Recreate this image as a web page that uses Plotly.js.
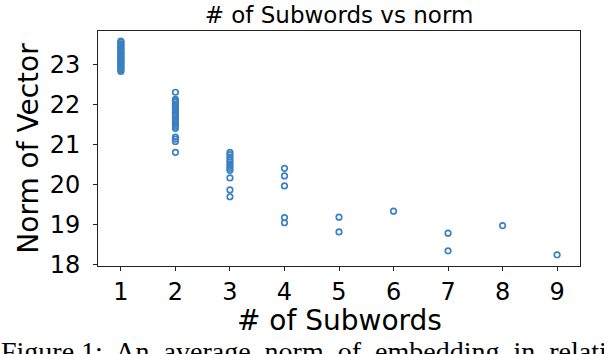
<!DOCTYPE html>
<html>
<head>
<meta charset="utf-8">
<script src="https://cdn.plot.ly/plotly-3.0.1.min.js"></script>
<style>
html,body{margin:0;padding:0;background:#fff;overflow:hidden;}
#chart{width:604px;height:354px;}
</style>
</head>
<body>
<div id="chart"></div>
<script>
// Number of subwords for each word
const subwords1 = [1,1,1,1,1,1,1,1,1,1,1,1,1,1,1,1,1,1,1,1,1,1,1,1,1];
const norms1 = [23.58,23.55,23.51,23.48,23.45,23.41,23.38,23.35,23.31,23.28,23.26,23.22,23.19,23.16,23.13,23.10,23.07,23.04,23.01,22.98,22.95,22.92,22.89,22.86,22.82];
const subwords2 = [2,2,2,2,2,2,2,2,2,2,2,2,2,2,2,2,2,2,2,2,2,2];
const norms2 = [22.30,22.12,22.09,22.05,22.00,21.96,21.92,21.87,21.83,21.78,21.74,21.70,21.65,21.60,21.55,21.50,21.45,21.40,21.18,21.13,21.07,20.80];
const subwords3 = [3,3,3,3,3,3,3,3,3,3,3,3];
const norms3 = [20.80,20.74,20.68,20.62,20.56,20.50,20.45,20.40,20.35,20.16,19.86,19.69];
const subwords4 = [4,4,4,4,4];
const norms4 = [20.40,20.21,19.96,19.17,19.04];
const subwordsRest = [5,5,6,7,7,8,9];
const normsRest = [19.18,18.81,19.33,18.78,18.34,18.97,18.24];

const xTickVals = [1,2,3,4,5,6,7,8,9];
const yTickVals = [18,19,20,21,22,23];
const titleText = "# of Subwords vs norm";
const xTitle = "# of Subwords";
const yTitle = "Norm of Vector";
const captionText = "Figure 1:  An  average  norm  of  embedding  in  relation  to  the";

const xs = [].concat(subwords1, subwords2, subwords3, subwords4, subwordsRest);
const ys = [].concat(norms1, norms2, norms3, norms4, normsRest);

const font = "DejaVu Sans, sans-serif";

const trace = {
  type: "scatter",
  mode: "markers",
  x: xs,
  y: ys,
  marker: {
    symbol: "circle-open",
    size: 5.5,
    color: "#3a80c3",
    line: {width: 1.7, color: "#3a80c3"}
  },
  hoverinfo: "none"
};

const layout = {
  width: 604,
  height: 354,
  margin: {l: 98, r: 24, t: 31, b: 88, pad: 0},
  paper_bgcolor: "#fff",
  plot_bgcolor: "#fff",
  showlegend: false,
  font: {family: font, color: "#000", size: 22},
  title: {
    text: titleText,
    font: {family: font, size: 23, color: "#000"},
    x: 0.5, xref: "paper", xanchor: "center",
    y: 1, yref: "paper", yanchor: "bottom", pad: {b: 8}
  },
  xaxis: {
    range: [0.58, 9.42],
    tickmode: "array",
    tickvals: xTickVals,
    ticks: "outside",
    ticklen: 4,
    tickwidth: 1,
    tickcolor: "#222",
    showgrid: false,
    zeroline: false,
    showline: true,
    linecolor: "#222",
    linewidth: 1,
    mirror: true,
    tickfont: {family: font, size: 24, color: "#000"}
  },
  yaxis: {
    range: [17.96, 23.83],
    tickmode: "array",
    tickvals: yTickVals,
    ticks: "outside",
    ticklen: 4,
    tickwidth: 1,
    tickcolor: "#222",
    showgrid: false,
    zeroline: false,
    showline: true,
    linecolor: "#222",
    linewidth: 1,
    mirror: true,
    ticklabelstandoff: 8,
    tickfont: {family: font, size: 24, color: "#000"},
    title: {text: yTitle, font: {family: font, size: 28, color: "#000"}, standoff: 2}
  },
  annotations: [{
    text: xTitle,
    xref: "paper", yref: "paper",
    x: 0.5, y: -0.155,
    xanchor: "center", yanchor: "top",
    showarrow: false,
    font: {family: font, size: 28, color: "#000"}
  }, {
    text: captionText,
    xref: "paper", yref: "paper",
    x: -0.205, y: -0.29,
    xanchor: "left", yanchor: "top",
    showarrow: false,
    font: {family: "Liberation Serif, serif", size: 28, color: "#000"}
  }]
};

Plotly.newPlot("chart", [trace], layout, {staticPlot: true, displayModeBar: false});
</script>
</body>
</html>
